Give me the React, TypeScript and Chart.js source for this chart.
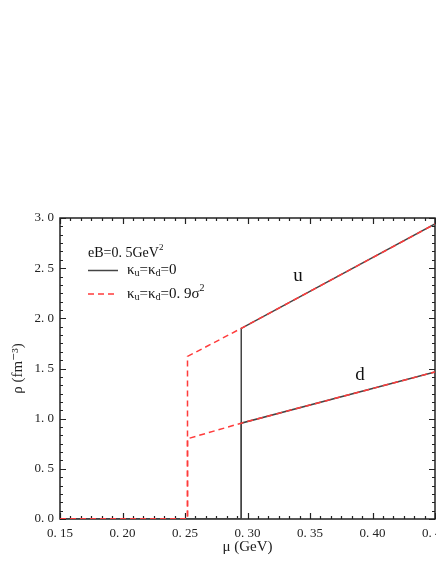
import React, { useEffect, useRef } from "react";
import { Chart, registerables } from "chart.js";

Chart.register(...registerables);

// ---- data ----
const muSolid = [0.15, 0.295, 0.295, 0.45];
const uSolid = [0, 0, 1.9, 2.94];
const dSolid = [0, 0, 0.955, 1.465];
const muDashed = [0.15, 0.252, 0.252, 0.295, 0.45];
const uDashed = [0, 0, 1.62, 1.9, 2.94];
const dDashed = [0, 0, 0.8, 0.955, 1.465];

const xTickValues = [0.15, 0.2, 0.25, 0.3, 0.35, 0.4, 0.45];
const yTickValues = [0, 0.5, 1.0, 1.5, 2.0, 2.5, 3.0];

const FONT = "'Liberation Serif', 'DejaVu Serif', serif";
const SOLID_COLOR = "#444444";
const RED = "#ff3b3b";

const fmt = (v: number, d: number) => {
  const s = v.toFixed(d);
  return s.replace(".", ". ");
};

type Seg = { t: string; sub?: boolean; sup?: boolean };

function drawRich(ctx: CanvasRenderingContext2D, x: number, y: number, segs: Seg[], size: number) {
  let cx = x;
  for (const s of segs) {
    if (s.sub || s.sup) {
      ctx.font = `${Math.round(size * 0.65)}px ${FONT}`;
      const dy = s.sub ? size * 0.25 : -size * 0.4;
      ctx.fillText(s.t, cx, y + dy);
    } else {
      ctx.font = `${size}px ${FONT}`;
      ctx.fillText(s.t, cx, y);
    }
    cx += ctx.measureText(s.t).width;
  }
}

const framePlugin = {
  id: "frame",
  beforeDatasetsDraw(chart: any) {
    const { ctx, chartArea: a, scales } = chart;
    const x = scales.x;
    const y = scales.y;
    ctx.save();
    ctx.strokeStyle = "#222";
    ctx.lineWidth = 1.5;
    ctx.strokeRect(a.left, a.top, a.right - a.left, a.bottom - a.top);
    ctx.lineWidth = 1.2;
    ctx.beginPath();
    const xMin = xTickValues[0];
    const xStep = xTickValues[1] - xTickValues[0];
    const nx = (xTickValues.length - 1) * 6;
    for (let i = 0; i <= nx; i++) {
      const v = xMin + (i * xStep) / 6;
      const px = Math.round(x.getPixelForValue(v)) + 0.5;
      const len = i % 6 === 0 ? 6 : 3;
      ctx.moveTo(px, a.bottom);
      ctx.lineTo(px, a.bottom - len);
      ctx.moveTo(px, a.top);
      ctx.lineTo(px, a.top + len);
    }
    const yStep = yTickValues[1] - yTickValues[0];
    const ny = (yTickValues.length - 1) * 6;
    for (let i = 0; i <= ny; i++) {
      const v = yTickValues[0] + (i * yStep) / 6;
      const py = Math.round(y.getPixelForValue(v)) + 0.5;
      const len = i % 6 === 0 ? 6 : 3;
      ctx.moveTo(a.left, py);
      ctx.lineTo(a.left + len, py);
      ctx.moveTo(a.right, py);
      ctx.lineTo(a.right - len, py);
    }
    ctx.stroke();
    ctx.restore();
  },
  afterDatasetsDraw(chart: any) {
    const { ctx } = chart;
    ctx.save();
    ctx.fillStyle = "#111";
    ctx.textBaseline = "middle";
    ctx.textAlign = "left";
    drawRich(ctx, 88, 253, [{ t: "eB=0. 5GeV" }, { t: "2", sup: true }], 14);
    // legend lines
    ctx.lineWidth = 1.5;
    ctx.strokeStyle = SOLID_COLOR;
    ctx.beginPath();
    ctx.moveTo(88, 270.5);
    ctx.lineTo(118, 270.5);
    ctx.stroke();
    ctx.strokeStyle = RED;
    ctx.setLineDash([6, 4]);
    ctx.beginPath();
    ctx.moveTo(88, 294);
    ctx.lineTo(118, 294);
    ctx.stroke();
    ctx.setLineDash([]);
    drawRich(ctx, 127, 270, [{ t: "κ" }, { t: "u", sub: true }, { t: "=κ" }, { t: "d", sub: true }, { t: "=0" }], 15);
    drawRich(ctx, 127, 294, [{ t: "κ" }, { t: "u", sub: true }, { t: "=κ" }, { t: "d", sub: true }, { t: "=0. 9σ" }, { t: "2", sup: true }], 15);
    // curve labels
    ctx.font = `19px ${FONT}`;
    ctx.textAlign = "center";
    ctx.fillText("u", 298, 276);
    ctx.fillText("d", 360, 375);
    ctx.restore();
  },
};

export default function App() {
  const ref = useRef<HTMLCanvasElement | null>(null);
  useEffect(() => {
    if (!ref.current) return;
    const chart = new Chart(ref.current, {
      type: "line",
      data: {
        datasets: [
          {
            label: "u dashed",
            data: muDashed.map((m, i) => ({ x: m, y: uDashed[i] })),
            borderColor: RED,
            borderWidth: 1.5,
            borderDash: [6, 4],
            pointRadius: 0,
            tension: 0,
          },
          {
            label: "d dashed",
            data: muDashed.map((m, i) => ({ x: m, y: dDashed[i] })),
            borderColor: RED,
            borderWidth: 1.5,
            borderDash: [6, 4],
            pointRadius: 0,
            tension: 0,
          },
          {
            label: "u solid",
            data: muSolid.map((m, i) => ({ x: m, y: uSolid[i] })),
            borderColor: SOLID_COLOR,
            borderWidth: 1.5,
            pointRadius: 0,
            tension: 0,
          },
          {
            label: "d solid",
            data: muSolid.map((m, i) => ({ x: m, y: dSolid[i] })),
            borderColor: SOLID_COLOR,
            borderWidth: 1.5,
            pointRadius: 0,
            tension: 0,
          },
        ],
      },
      options: {
        animation: false,
        responsive: false,
        devicePixelRatio: 1,
        layout: { padding: { top: 218, right: 1, bottom: 0, left: 0 } },
        plugins: { legend: { display: false }, tooltip: { enabled: false } },
        scales: {
          x: {
            type: "linear",
            min: 0.15,
            max: 0.45,
            grid: { display: false, drawTicks: false },
            border: { display: false },
            afterBuildTicks: (s: any) => {
              s.ticks = xTickValues.map((v) => ({ value: v }));
            },
            afterFit: (s: any) => {
              s.height = 45;
              s.paddingLeft = 0;
              s.paddingRight = 0;
            },
            ticks: {
              padding: 7,
              color: "#222",
              maxRotation: 0,
              autoSkip: false,
              font: { family: FONT, size: 13 },
              callback: (v: any) => fmt(Number(v), 2),
            },
            title: {
              display: true,
              text: "μ (GeV)",
              color: "#222",
              font: { family: FONT, size: 15 },
              padding: { top: 2, bottom: 8 },
            },
          },
          y: {
            type: "linear",
            min: 0,
            max: 3,
            grid: { display: false, drawTicks: false },
            border: { display: false },
            afterBuildTicks: (s: any) => {
              s.ticks = yTickValues.map((v) => ({ value: v }));
            },
            afterFit: (s: any) => {
              s.width = 60;
              s.paddingTop = 0;
              s.paddingBottom = 0;
            },
            ticks: {
              padding: 6,
              color: "#222",
              autoSkip: false,
              font: { family: FONT, size: 13 },
              callback: (v: any) => fmt(Number(v), 1),
            },
            title: {
              display: true,
              text: "ρ (fm⁻³)",
              color: "#222",
              font: { family: FONT, size: 15 },
              padding: { top: 9, bottom: 2 },
            },
          },
        },
      },
      plugins: [framePlugin],
    } as any);
    return () => chart.destroy();
  }, []);
  return (
    <div style={{ position: "absolute", left: 0, top: 0, width: 436, height: 564, background: "#fff" }}>
      <canvas ref={ref} width={436} height={564} style={{ display: "block" }} />
    </div>
  );
}
